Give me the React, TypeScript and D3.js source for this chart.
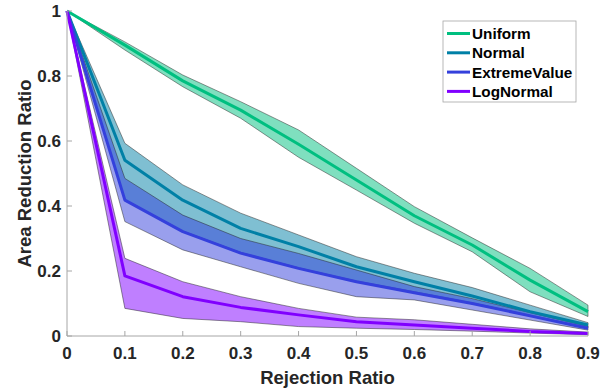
import * as d3 from 'd3';

// Rejection ratio (x) and series values: mean with lower/upper band
const ratios = [0, 0.1, 0.2, 0.3, 0.4, 0.5, 0.6, 0.7, 0.8, 0.9];

const uniformMean = [1, 0.895, 0.785, 0.695, 0.59, 0.48, 0.37, 0.28, 0.172, 0.075];
const uniformLow = [1, 0.88, 0.767, 0.67, 0.55, 0.449, 0.347, 0.259, 0.136, 0.06];
const uniformHigh = [1, 0.905, 0.803, 0.721, 0.634, 0.516, 0.398, 0.302, 0.208, 0.095];

const normalMean = [1, 0.541, 0.418, 0.331, 0.275, 0.213, 0.167, 0.123, 0.075, 0.034];
const normalLow = [1, 0.42, 0.323, 0.257, 0.21, 0.169, 0.136, 0.102, 0.064, 0.026];
const normalHigh = [1, 0.593, 0.465, 0.378, 0.311, 0.244, 0.193, 0.149, 0.095, 0.041];

const extremeMean = [1, 0.418, 0.321, 0.255, 0.208, 0.167, 0.133, 0.1, 0.062, 0.024];
const extremeLow = [1, 0.352, 0.265, 0.213, 0.162, 0.121, 0.111, 0.08, 0.049, 0.018];
const extremeHigh = [1, 0.485, 0.372, 0.3, 0.254, 0.203, 0.152, 0.115, 0.072, 0.03];

const logNormalMean = [1, 0.185, 0.121, 0.088, 0.065, 0.044, 0.034, 0.024, 0.014, 0.008];
const logNormalLow = [1, 0.085, 0.054, 0.044, 0.029, 0.024, 0.02, 0.015, 0.009, 0.004];
const logNormalHigh = [1, 0.239, 0.167, 0.121, 0.085, 0.058, 0.05, 0.036, 0.022, 0.012];

const xTicks = [0, 0.1, 0.2, 0.3, 0.4, 0.5, 0.6, 0.7, 0.8, 0.9];
const yTicks = [0, 0.2, 0.4, 0.6, 0.8, 1];

const series = [
  { name: 'Uniform', color: '#00bf80', mean: uniformMean, low: uniformLow, high: uniformHigh },
  { name: 'Normal', color: '#0080a6', mean: normalMean, low: normalLow, high: normalHigh },
  { name: 'ExtremeValue', color: '#3440dc', mean: extremeMean, low: extremeLow, high: extremeHigh },
  { name: 'LogNormal', color: '#8000ff', mean: logNormalMean, low: logNormalLow, high: logNormalHigh },
];

const W = 615;
const H = 390;
const margin = { top: 11, right: 27, bottom: 54, left: 67 };
const FONT = '"Liberation Sans", Arial, sans-serif';

export default function App() {
  const x = d3.scaleLinear().domain([0, 0.9]).range([margin.left, W - margin.right]);
  const y = d3.scaleLinear().domain([0, 1]).range([H - margin.bottom, margin.top]);

  const line = d3
    .line<number>()
    .x((_, i) => x(ratios[i]))
    .y((d) => y(d));

  const x0 = x(0);
  const x1 = x(0.9);
  const yb = y(0);
  const yt = y(1);

  // legend
  const lgX = 443;
  const lgY = 21;
  const lgW = 133;
  const lgH = 81;
  const rowH = 19.3;

  return (
    <svg
      width={W}
      height={H}
      style={{ position: 'absolute', left: 0, top: 0, background: '#fff' }}
      fontFamily={FONT}
    >
      {/* Bands */}
      {series.map((s) => {
        const a = d3
          .area<number>()
          .x((_, i) => x(ratios[i]))
          .y0((_, i) => y(s.low[i]))
          .y1((d) => y(d));
        return (
          <path
            key={s.name + '-band'}
            d={a(s.high) || ''}
            fill={s.color}
            fillOpacity={0.5}
            stroke="#222"
            strokeOpacity={0.8}
            strokeWidth={0.6}
          />
        );
      })}

      {/* Mean lines */}
      {series.map((s) => (
        <path
          key={s.name + '-line'}
          d={line(s.mean) || ''}
          fill="none"
          stroke={s.color}
          strokeWidth={3}
          strokeLinejoin="round"
        />
      ))}

      {/* Axes */}
      <line x1={x0} x2={x0} y1={yt} y2={yb} stroke="#a6a6a6" strokeWidth={1} />
      <line x1={x0} x2={x1} y1={yb} y2={yb} stroke="#a6a6a6" strokeWidth={1} />
      {yTicks.map((t) => (
        <g key={'y' + t}>
          <line x1={x0} x2={x0 + 5} y1={y(t)} y2={y(t)} stroke="#a6a6a6" />
          <text
            x={x0 - 6}
            y={y(t)}
            dy="0.36em"
            textAnchor="end"
            fontSize={17}
            fontWeight="bold"
            fill="#262626"
          >
            {d3.format('~g')(t)}
          </text>
        </g>
      ))}
      {xTicks.map((t) => (
        <g key={'x' + t}>
          <line x1={x(t)} x2={x(t)} y1={yb} y2={yb - 5} stroke="#a6a6a6" />
          <text
            x={x(t)}
            y={yb + 23}
            textAnchor="middle"
            fontSize={17}
            fontWeight="bold"
            fill="#262626"
          >
            {d3.format('~g')(t)}
          </text>
        </g>
      ))}

      <text
        x={(x0 + x1) / 2}
        y={384}
        textAnchor="middle"
        fontSize={18.5}
        fontWeight="bold"
        fill="#262626"
      >
        Rejection Ratio
      </text>
      <text
        transform={`translate(31,${(yt + yb) / 2}) rotate(-90)`}
        textAnchor="middle"
        fontSize={18.5}
        fontWeight="bold"
        fill="#262626"
      >
        Area Reduction Ratio
      </text>

      {/* Legend */}
      <rect x={lgX} y={lgY} width={lgW} height={lgH} fill="#fff" stroke="#a6a6a6" strokeWidth={0.8} />
      {series.map((s, i) => {
        const cy = lgY + 12.5 + i * rowH;
        return (
          <g key={s.name + '-lg'}>
            <line x1={lgX + 4} x2={lgX + 27} y1={cy} y2={cy} stroke={s.color} strokeWidth={3} />
            <text x={lgX + 29} y={cy} dy="0.36em" fontSize={15.3} fontWeight="bold" fill="#000">
              {s.name}
            </text>
          </g>
        );
      })}
    </svg>
  );
}
